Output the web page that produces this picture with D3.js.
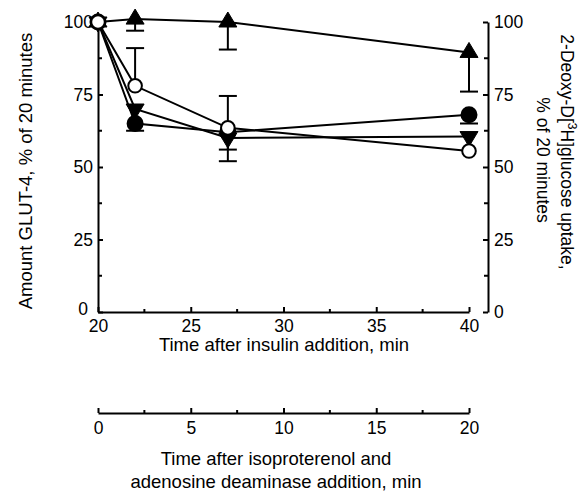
<!DOCTYPE html>
<html>
<head>
<meta charset="utf-8">
<script src="https://cdn.jsdelivr.net/npm/d3@7"></script>
<style>
  body { margin: 0; background: #fff; }
  svg text { font-family: Arial, "Liberation Sans", Helvetica, sans-serif; fill: #000; }
</style>
</head>
<body>
<div id="chart"></div>
<script>
// Data
const times = [20, 22, 27, 40];
const filledCircle = [100, 65, 62, 68];
const filledCircleErrLow = [0, 2.5, 6, 3];
const openCircle = [100, 78, 63.5, 55.5];
const openCircleErrHigh = [0, 13, 11, 0];
const triUp = [100, 101, 100, 89.5];
const triUpErrLow = [0, 4, 9.5, 13.5];
const triDown = [100, 70, 60, 60.5];
const triDownErrLow = [0, 0, 8, 0];

const yTicks = [0, 25, 50, 75, 100];
const xTicks = [20, 25, 30, 35, 40];
const x2Ticks = [0, 5, 10, 15, 20];

// Graph setup
const width = 587;
const height = 499;

const svg = d3.select('#chart')
  .append('svg')
  .attr('width', width)
  .attr('height', height);

const x = d3.scaleLinear().domain([20, 40]).range([98, 469]);
const x2 = d3.scaleLinear().domain([0, 20]).range([98, 469]);
const y = d3.scaleLinear().domain([0, 100]).range([312, 22]);
const rightX = 488;
const axis2Y = 413;

const tickFont = 17.5;
const titleFont = 18.5;

function styleAxis(g) {
  g.select('.domain').attr('stroke', '#000').attr('stroke-width', 2);
  g.selectAll('.tick line').attr('stroke', '#000').attr('stroke-width', 2);
  g.selectAll('.tick text').style('font-size', tickFont + 'px').attr('fill', '#000');
}

function minorTick(g, x1, y1, x2, y2) {
  g.append('line').attr('x1', x1).attr('x2', x2).attr('y1', y1).attr('y2', y2)
    .attr('stroke', '#000').attr('stroke-width', 2);
}

// left axis
const leftAxis = svg.append('g')
  .attr('transform', `translate(${x(20)},0)`)
  .call(d3.axisRight(y).tickValues(yTicks).tickSize(5).tickSizeOuter(0).tickFormat(d3.format('d')));
leftAxis.selectAll('.tick text').attr('x', -5).attr('text-anchor', 'end');
styleAxis(leftAxis);
// the corner "0" sits just left of and above the x-axis "20"
leftAxis.selectAll('.tick').filter(d => d === 0).select('text').attr('x', -10).attr('y', -3);
[12.5, 37.5, 62.5, 87.5].forEach(v => minorTick(leftAxis, 0, y(v), 4, y(v)));

// right axis
const rightAxis = svg.append('g')
  .attr('transform', `translate(${rightX},0)`)
  .call(d3.axisLeft(y).tickValues(yTicks).tickSize(5).tickSizeOuter(0).tickFormat(d3.format('d')));
rightAxis.selectAll('.tick text').attr('x', 6).attr('text-anchor', 'start');
styleAxis(rightAxis);
[12.5, 37.5, 62.5, 87.5].forEach(v => minorTick(rightAxis, 0, y(v), -4, y(v)));

// bottom axis
const bottomAxis = svg.append('g')
  .attr('transform', `translate(0,${y(0)})`)
  .call(d3.axisTop(x).tickValues(xTicks).tickSize(5).tickSizeOuter(0));
bottomAxis.selectAll('.tick text').attr('y', 19.5).attr('dy', 0);
styleAxis(bottomAxis);
[22.5, 27.5, 32.5, 37.5].forEach(v => minorTick(bottomAxis, x(v), 0, x(v), -3));

// second time axis
const secondAxis = svg.append('g')
  .attr('transform', `translate(0,${axis2Y})`)
  .call(d3.axisTop(x2).tickValues(x2Ticks).tickSize(5).tickSizeOuter(0));
secondAxis.selectAll('.tick text').attr('y', 21).attr('dy', 0);
styleAxis(secondAxis);
[2.5, 7.5, 12.5, 17.5].forEach(v => minorTick(secondAxis, x2(v), 0, x2(v), -3));

// axis titles
svg.append('text')
  .attr('transform', 'translate(32,171) rotate(-90)')
  .attr('text-anchor', 'middle')
  .style('font-size', titleFont + 'px')
  .text('Amount GLUT-4, % of 20 minutes');

const rightTitle1 = svg.append('text')
  .attr('transform', 'translate(561,152) rotate(90)')
  .attr('text-anchor', 'middle')
  .style('font-size', '17.5px');
rightTitle1.append('tspan').text('2-Deoxy-D[');
rightTitle1.append('tspan').attr('dy', -7).style('font-size', '12px').text('3');
rightTitle1.append('tspan').attr('dy', 7).text('H]glucose uptake,');

svg.append('text')
  .attr('transform', 'translate(537,160) rotate(90)')
  .attr('text-anchor', 'middle')
  .style('font-size', '17.5px')
  .text('% of 20 minutes');

svg.append('text')
  .attr('x', 284).attr('y', 351)
  .attr('text-anchor', 'middle')
  .style('font-size', titleFont + 'px')
  .text('Time after insulin addition, min');

svg.append('text')
  .attr('x', 276).attr('y', 465)
  .attr('text-anchor', 'middle')
  .style('font-size', titleFont + 'px')
  .text('Time after isoproterenol and');
svg.append('text')
  .attr('x', 276).attr('y', 488)
  .attr('text-anchor', 'middle')
  .style('font-size', titleFont + 'px')
  .text('adenosine deaminase addition, min');

// series
const series = [
  { name: 'filledCircle', values: filledCircle, low: filledCircleErrLow, high: null, shape: 'circle', fill: '#000' },
  { name: 'triDown', values: triDown, low: triDownErrLow, high: null, shape: 'down', fill: '#000' },
  { name: 'triUp', values: triUp, low: triUpErrLow, high: null, shape: 'up', fill: '#000' },
  { name: 'openCircle', values: openCircle, low: null, high: openCircleErrHigh, shape: 'circle', fill: '#fff' }
];

const line = d3.line().x(d => x(d.t)).y(d => y(d.v));

// error bars
series.forEach(s => {
  times.forEach((t, i) => {
    const v = s.values[i];
    const ends = [];
    if (s.low && s.low[i]) ends.push(v - s.low[i]);
    if (s.high && s.high[i]) ends.push(v + s.high[i]);
    ends.forEach(e => {
      minorTick(svg, x(t), y(v), x(t), y(e));
      minorTick(svg, x(t) - 9, y(e), x(t) + 9, y(e));
    });
  });
});

// lines
series.forEach(s => {
  const pts = times.map((t, i) => ({ t, v: s.values[i] }));
  svg.append('path')
    .datum(pts)
    .attr('d', line)
    .attr('fill', 'none')
    .attr('stroke', '#000')
    .attr('stroke-width', 2);
});

// markers
function triPath(w, h, up) {
  const s = up ? 1 : -1;
  return `M0,${-s * h * 2 / 3}L${w / 2},${s * h / 3}L${-w / 2},${s * h / 3}Z`;
}

series.forEach(s => {
  const g = svg.append('g');
  times.forEach((t, i) => {
    const cx = x(t), cy = y(s.values[i]);
    if (s.shape === 'circle') {
      g.append('circle').attr('cx', cx).attr('cy', cy).attr('r', s.fill === '#fff' ? 6.8 : 7.5)
        .attr('fill', s.fill).attr('stroke', '#000').attr('stroke-width', 2);
    } else {
      g.append('path').attr('transform', `translate(${cx},${cy})`)
        .attr('d', triPath(18, 15, s.shape === 'up'))
        .attr('fill', '#000').attr('stroke', '#000').attr('stroke-width', 1);
    }
  });
});
</script>
</body>
</html>
